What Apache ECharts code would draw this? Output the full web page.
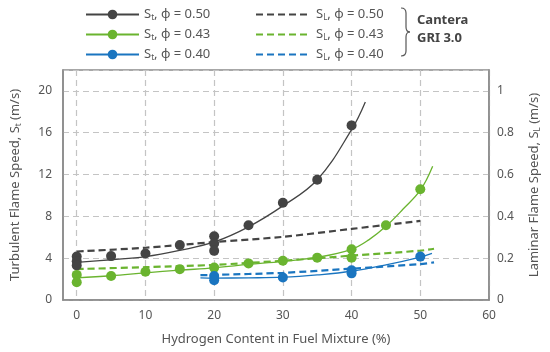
<!DOCTYPE html>
<html><head><meta charset="utf-8">
<script src="https://cdn.jsdelivr.net/npm/echarts@6/dist/echarts.min.js"></script>
<style>html,body{margin:0;padding:0;background:#fff}#c{width:550px;height:352px}</style>
</head><body><div id="c"></div>
<script>
// ---- data ----
const xTicks = [0, 10, 20, 30, 40, 50, 60];
const yLeftTicks = [0, 4, 8, 12, 16, 20];
const yRightTicks = [0, 0.2, 0.4, 0.6, 0.8, 1];

// measured turbulent flame speed points (m/s)
const pts050X = [0, 0, 0, 5, 10, 15, 20, 20, 20, 25, 30, 35, 40];
const pts050Y = [4.15, 3.7, 3.3, 4.2, 4.45, 5.25, 6.1, 5.4, 4.7, 7.15, 9.3, 11.5, 16.7];
const pts043X = [0, 0, 5, 10, 15, 20, 25, 30, 35, 40, 40, 45, 50];
const pts043Y = [2.4, 1.7, 2.3, 2.7, 2.95, 3.1, 3.5, 3.75, 4.05, 4.85, 4.05, 7.15, 10.6];
const pts040X = [20, 20, 30, 40, 40, 50];
const pts040Y = [2.3, 1.9, 2.15, 2.85, 2.55, 4.15];

// fitted St curves
const fit050X = [0, 5, 10, 15, 20, 25, 30, 35, 40, 42];
const fit050Y = [3.6, 3.85, 4.15, 4.75, 5.55, 7.0, 9.0, 11.5, 16.3, 18.95];
const fit043X = [0, 5, 10, 15, 20, 25, 30, 35, 40, 42.5, 45, 47.5, 50, 51.8];
const fit043Y = [2.12, 2.32, 2.6, 2.85, 3.08, 3.4, 3.7, 4.08, 4.85, 5.75, 7.05, 8.7, 10.5, 12.8];
const fit040X = [18, 20, 25, 30, 35, 40, 45, 50, 51.7];
const fit040Y = [2.12, 2.1, 2.12, 2.18, 2.4, 2.75, 3.35, 4.1, 4.45];

// Cantera GRI 3.0 laminar flame speed (m/s), right axis
const sl050X = [0, 10, 20, 30, 40, 50];
const sl050Y = [0.232, 0.25, 0.277, 0.302, 0.34, 0.378];
const sl043X = [0, 10, 20, 30, 40, 50, 52];
const sl043Y = [0.148, 0.157, 0.168, 0.188, 0.212, 0.236, 0.245];
const sl040X = [18, 20, 30, 40, 50, 52];
const sl040Y = [0.119, 0.12, 0.13, 0.15, 0.172, 0.18];

const legendLabels = {
  St050: ['t', '0.50'], St043: ['t', '0.43'], St040: ['t', '0.40'],
  SL050: ['L', '0.50'], SL043: ['L', '0.43'], SL040: ['L', '0.40']
};

const C_DARK = '#444444', C_GREEN = '#6ab42f', C_BLUE = '#1a75c0';
const FONT = 'Noto Sans';
const zip = (xs, ys) => xs.map((x, i) => [x, ys[i]]);

const chart = echarts.init(document.getElementById('c'), null, {renderer: 'canvas'});

function fitSeries(name, xs, ys, color) {
  return {name, type: 'line', data: zip(xs, ys), smooth: 0.4, symbol: 'circle', symbolSize: 10,
    showSymbol: false, color, lineStyle: {color, width: 1.3}, itemStyle: {color}, z: 3, silent: true};
}
function ptsSeries(name, xs, ys, color) {
  return {name, type: 'scatter', data: zip(xs, ys), symbol: 'circle', symbolSize: 10,
    itemStyle: {color, opacity: 1}, z: 5, silent: true};
}
function slSeries(name, xs, ys, color) {
  return {name, type: 'line', yAxisIndex: 1, data: zip(xs, ys), smooth: 0.3, symbol: 'none',
    color, lineStyle: {color, width: 2.2, type: [7, 4]}, itemStyle: {color}, z: 2, silent: true};
}

const richText = {
  s: {fontFamily: FONT, fontSize: 13, color: '#555'},
  sub: {fontFamily: FONT, fontSize: 8, color: '#555', verticalAlign: 'bottom', padding: [7, 0, 0, 0]}
};
const legendFmt = n => '{s|S}{sub|' + legendLabels[n][0] + '}{s|, ϕ = ' + legendLabels[n][1] + '}';
const noDot = {color: 'rgba(0,0,0,0)', borderWidth: 0, opacity: 0};

const gridLine = {show: true, lineStyle: {color: '#c4c4c4', width: 1.2, type: [6, 4]}};
const braceStyle = {stroke: '#555', lineWidth: 1.2, fill: null};
const axisLineStyle = {show: true, onZero: false, lineStyle: {color: '#8a8a8a', width: 1.5}};

chart.setOption({
  animation: false,
  textStyle: {fontFamily: FONT},
  grid: {left: 63, right: 61, top: 70, bottom: 52, show: true, borderColor: '#8a8a8a', borderWidth: 1.5},
  legend: [
    {data: ['St050', 'St043', 'St040'], orient: 'vertical', left: 85, top: 8, itemWidth: 53, itemHeight: 12,
     itemGap: 6, padding: 0, formatter: legendFmt, textStyle: {rich: richText}, selectedMode: false},
    {data: [{name: 'SL050', itemStyle: noDot}, {name: 'SL043', itemStyle: noDot}, {name: 'SL040', itemStyle: noDot}],
     orient: 'vertical', left: 255, top: 8, itemWidth: 55, itemHeight: 12,
     itemGap: 6, padding: 0, formatter: legendFmt, textStyle: {rich: richText}, selectedMode: false}
  ],
  graphic: [
    {type: 'bezierCurve', shape: {x1: 401, y1: 8, cpx1: 406, cpy1: 8, x2: 406, y2: 13}, style: braceStyle},
    {type: 'line', shape: {x1: 406, y1: 13, x2: 406, y2: 27}, style: braceStyle},
    {type: 'bezierCurve', shape: {x1: 406, y1: 27, cpx1: 406, cpy1: 32, x2: 410, y2: 32}, style: braceStyle},
    {type: 'bezierCurve', shape: {x1: 410, y1: 32, cpx1: 406, cpy1: 32, x2: 406, y2: 37}, style: braceStyle},
    {type: 'line', shape: {x1: 406, y1: 37, x2: 406, y2: 51}, style: braceStyle},
    {type: 'bezierCurve', shape: {x1: 406, y1: 51, cpx1: 406, cpy1: 56, x2: 401, y2: 56}, style: braceStyle},
    {type: 'text', left: 417, top: 14, style: {text: 'Cantera', fontFamily: FONT, fontSize: 13, fontWeight: 'bold', fill: '#444'}},
    {type: 'text', left: 417, top: 32, style: {text: 'GRI 3.0', fontFamily: FONT, fontSize: 13, fontWeight: 'bold', fill: '#444'}}
  ],
  xAxis: {
    type: 'value', min: -2, max: 60,
    name: 'Hydrogen Content in Fuel Mixture (%)', nameLocation: 'middle', nameGap: 33,
    nameTextStyle: {fontFamily: FONT, fontSize: 13, color: '#555'},
    axisLine: axisLineStyle,
    axisTick: {show: false, customValues: xTicks},
    axisLabel: {customValues: xTicks, fontFamily: FONT, fontSize: 12, color: '#555', margin: 10},
    splitLine: gridLine
  },
  yAxis: [
    {type: 'value', min: 0, max: 22, interval: 4, position: 'left',
     name: '{s|Turbulent Flame Speed, S}{sub|t}{s| (m/s)}', nameLocation: 'middle', nameGap: 40, nameRotate: 90,
     nameTextStyle: {rich: richText},
     axisLine: axisLineStyle, axisTick: {show: false},
     axisLabel: {fontFamily: FONT, fontSize: 12, color: '#555', margin: 11,
       formatter: v => yLeftTicks.indexOf(v) >= 0 ? String(v) : ''},
     splitLine: gridLine},
    {type: 'value', min: 0, max: 1.1, interval: 0.2, position: 'right',
     name: '{s|Laminar Flame Speed, S}{sub|L}{s| (m/s)}', nameLocation: 'middle', nameGap: 38, nameRotate: 90,
     nameTextStyle: {rich: richText},
     axisLine: axisLineStyle, axisTick: {show: false},
     axisLabel: {fontFamily: FONT, fontSize: 12, color: '#555', margin: 8,
       formatter: v => {const r = Math.round(v * 10) / 10; return yRightTicks.indexOf(r) >= 0 && Math.abs(r - v) < 1e-6 ? String(r) : '';}},
     splitLine: {show: false}}
  ],
  series: [
    fitSeries('St050', fit050X, fit050Y, C_DARK),
    fitSeries('St043', fit043X, fit043Y, C_GREEN),
    fitSeries('St040', fit040X, fit040Y, C_BLUE),
    slSeries('SL050', sl050X, sl050Y, C_DARK),
    slSeries('SL043', sl043X, sl043Y, C_GREEN),
    slSeries('SL040', sl040X, sl040Y, C_BLUE),
    ptsSeries('p050', pts050X, pts050Y, C_DARK),
    ptsSeries('p043', pts043X, pts043Y, C_GREEN),
    ptsSeries('p040', pts040X, pts040Y, C_BLUE)
  ]
});
</script></body></html>
